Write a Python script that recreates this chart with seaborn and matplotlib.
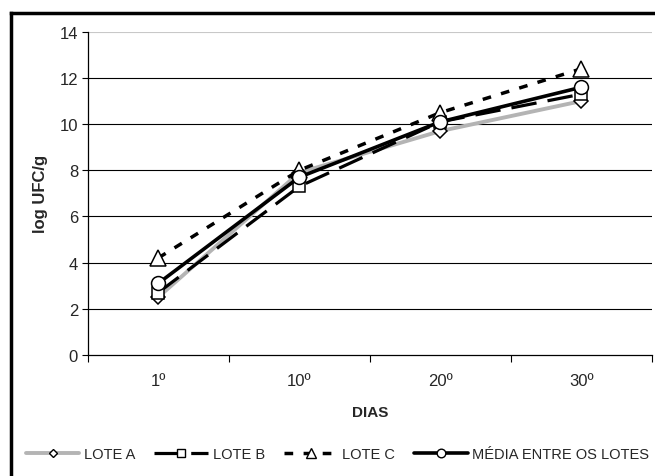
import matplotlib
matplotlib.use("Agg")
import matplotlib.pyplot as plt
from matplotlib.lines import Line2D
from matplotlib.ticker import FixedLocator, NullFormatter, FixedFormatter
import seaborn as sns
import pandas as pd

dias = ["1º", "10º", "20º", "30º"]
lote_a = [2.5, 7.9, 9.7, 11.0]
lote_b = [2.7, 7.3, 10.1, 11.3]
lote_c = [4.2, 8.0, 10.5, 12.4]
media = [3.1, 7.7, 10.1, 11.6]

series = [
    ("LOTE A", lote_a, dict(color="#b4b4b4", ls="-", lw=2.8, marker="D", ms=7)),
    ("LOTE B", lote_b, dict(color="black", ls=(0, (8, 3.5)), lw=2.3, marker="s", ms=9)),
    ("LOTE C", lote_c, dict(color="black", ls=(0, (2.5, 3)), lw=2.5, marker="^", ms=11)),
    ("MÉDIA ENTRE OS LOTES", media, dict(color="black", ls="-", lw=2.6, marker="o", ms=10)),
]

sns.set_style("white")
plt.rcParams["font.family"] = ["Liberation Sans", "DejaVu Sans"]

fig = plt.figure(figsize=(6.55, 4.77), dpi=100)
ax = fig.add_axes([0.134, 0.254, 0.861, 0.677])

pos = list(range(len(dias)))
for name, vals, st in series:
    df = pd.DataFrame({"pos": pos, "val": vals})
    sns.lineplot(data=df, x="pos", y="val", ax=ax, color=st["color"],
                 linestyle=st["ls"], linewidth=st["lw"], label=name,
                 marker=st["marker"], markersize=st["ms"],
                 markerfacecolor="white", markeredgecolor="black",
                 markeredgewidth=1.1, legend=False, zorder=3)

ax.set_xlim(-0.5, len(dias) - 0.5)
ax.set_ylim(0, 14)
ax.set_yticks(range(0, 15, 2))
ax.tick_params(axis="y", which="major", length=4, width=0.8, color="black",
               labelsize=12, pad=3, direction="out", left=True)

# category boundaries carry the ticks, category centres carry the labels
ax.xaxis.set_major_locator(FixedLocator([p - 0.5 for p in pos] + [pos[-1] + 0.5]))
ax.xaxis.set_major_formatter(NullFormatter())
ax.xaxis.set_minor_locator(FixedLocator(pos))
ax.xaxis.set_minor_formatter(FixedFormatter(dias))
ax.tick_params(axis="x", which="major", length=5, width=0.8, color="black",
               direction="out", bottom=True)
ax.tick_params(axis="x", which="minor", length=0, labelsize=12, pad=13)

ax.yaxis.grid(True, color="black", lw=0.8)
ax.set_axisbelow(True)
gl = ax.get_ygridlines()
gl[-1].set_color("#c8c8c8")
gl[0].set_visible(False)

for s in ["top", "right"]:
    ax.spines[s].set_visible(False)
for s in ["left", "bottom"]:
    ax.spines[s].set_color("black")
    ax.spines[s].set_linewidth(0.9)

ax.set_xlabel("DIAS", fontsize=11, fontweight="bold", labelpad=12)
ax.set_ylabel("log UFC/g", fontsize=12, fontweight="bold", labelpad=8)

handles = []
for name, vals, st in series:
    handles.append(Line2D([], [], color=st["color"], linestyle=st["ls"],
                          linewidth=st["lw"], marker=st["marker"],
                          markersize=st["ms"] * 0.62, markerfacecolor="white",
                          markeredgecolor="black", markeredgewidth=1.0))
fig.legend(handles, [s[0] for s in series], loc="center",
           bbox_to_anchor=(0.515, 0.046), ncol=4, frameon=False,
           handlelength=3.7, handletextpad=0.3, columnspacing=1.3,
           prop={"size": 10.5})

# frame drawn along the left and top of the figure
fig.add_artist(Line2D([0.017, 0.017], [0.0, 0.970], transform=fig.transFigure,
                      color="black", lw=2.5, solid_capstyle="projecting"))
fig.add_artist(Line2D([0.017, 1.0], [0.970, 0.970], transform=fig.transFigure,
                      color="black", lw=2.5, solid_capstyle="projecting"))

fig.savefig("out.png", dpi=100)
